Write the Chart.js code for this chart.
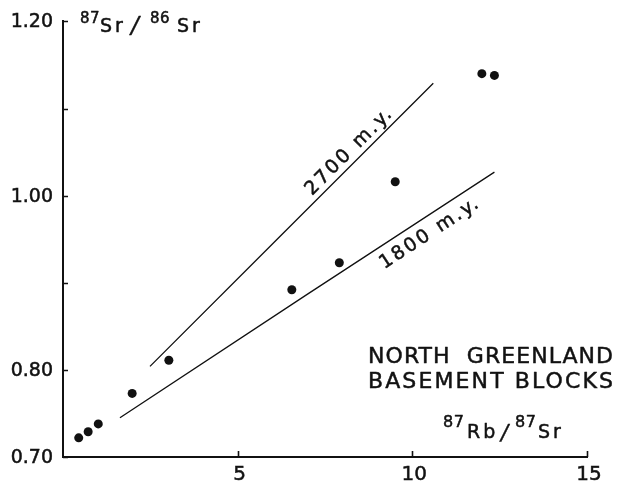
<!DOCTYPE html>
<html>
<head>
<meta charset="utf-8">
<script src="https://cdn.jsdelivr.net/npm/chart.js@4.4.1/dist/chart.umd.min.js"></script>
<style>
  html, body { margin: 0; padding: 0; background: #fff; }
  #wrap { width: 620px; height: 486px; position: relative; }
</style>
</head>
<body>
<div id="wrap"><canvas id="chart"></canvas></div>
<script>
// --- data ---
const samplesX = [0.45, 0.72, 1.01, 1.98, 3.03, 6.55, 7.91, 9.51, 11.99, 12.35];
const samplesY = [0.722, 0.729, 0.738, 0.773, 0.811, 0.892, 0.923, 1.016, 1.140, 1.138];
const iso2700X = [2.49, 6.03, 10.60];
const iso2700Y = [0.804, 0.946, 1.129];
const iso1800X = [1.63, 7.00, 12.35];
const iso1800Y = [0.745, 0.887, 1.027];
const yTicks = [0.70, 0.80, 0.90, 1.00, 1.10, 1.20];
const yTickLabels = ['0.70', '0.80', '', '1.00', '', '1.20'];
const xTicks = [0, 5, 10, 15];
const xTickLabels = ['', '5', '10', '15'];

const FONT = '"DejaVu Sans", Verdana, sans-serif';
const INK = '#111';
const BOLDEN = 0.5;

const toPts = (xs, ys) => xs.map((x, i) => ({ x, y: ys[i] }));

// point on a polyline at a given x (for label anchoring only)
function yAt(xs, ys, x) {
    for (let i = 1; i < xs.length; i++) {
        if (x <= xs[i]) {
            const t = (x - xs[i - 1]) / (xs[i] - xs[i - 1]);
            return ys[i - 1] + t * (ys[i] - ys[i - 1]);
        }
    }
    return ys[ys.length - 1];
}

const isoLabels = [
    { text: '2700 m.y.', xs: iso2700X, ys: iso2700Y, at: 8.4, off: -6 },
    { text: '1800 m.y.', xs: iso1800X, ys: iso1800Y, at: 10.23, off: 21 }
];

function ink(ctx, text, x, y) {
    ctx.strokeText(text, x, y);
    ctx.fillText(text, x, y);
}

// text pieces placed at given x, on one baseline y (+dy)
function drawParts(ctx, parts, y) {
    parts.forEach(p => {
        ctx.font = (p.style || '') + ' ' + p.size + 'px ' + FONT;
        ctx.letterSpacing = (p.ls || 0) + 'px';
        ink(ctx, p.t, p.x, y + (p.dy || 0));
    });
}

// spread a string so it covers the given width
function fitText(ctx, text, x, y, width) {
    ctx.letterSpacing = '0px';
    const w = ctx.measureText(text).width;
    ctx.letterSpacing = ((width - w) / (text.length - 1)) + 'px';
    ink(ctx, text, x, y);
}

const overlay = {
    id: 'overlay',
    afterDraw(chart) {
        const { ctx, scales: { x, y } } = chart;
        ctx.save();
        ctx.strokeStyle = INK;
        ctx.fillStyle = INK;
        ctx.lineWidth = 1.6;

        // inward tick marks
        ctx.beginPath();
        yTicks.forEach(v => {
            const py = Math.round(y.getPixelForValue(v)) + 0.5;
            ctx.moveTo(x.left, py);
            ctx.lineTo(x.left + 5, py);
        });
        xTicks.slice(1).forEach(v => {
            const px = Math.round(x.getPixelForValue(v)) + 0.5;
            ctx.moveTo(px, y.bottom);
            ctx.lineTo(px, y.bottom - 6);
        });
        ctx.stroke();

        ctx.lineWidth = BOLDEN;
        ctx.lineJoin = 'round';
        ctx.textAlign = 'left';
        ctx.textBaseline = 'alphabetic';

        // isochron labels, rotated along their lines
        ctx.font = '19px ' + FONT;
        isoLabels.forEach(l => {
            const n = l.xs.length - 1;
            const ang = Math.atan2(
                y.getPixelForValue(l.ys[n]) - y.getPixelForValue(l.ys[0]),
                x.getPixelForValue(l.xs[n]) - x.getPixelForValue(l.xs[0]));
            const px = x.getPixelForValue(l.at);
            const py = y.getPixelForValue(yAt(l.xs, l.ys, l.at));
            const len = 114;
            ctx.save();
            ctx.translate(px, py);
            ctx.rotate(ang);
            fitText(ctx, l.text, -len / 2, l.off, len);
            ctx.restore();
        });

        // axis titles
        drawParts(ctx, [
            { t: '87', x: 80, size: 15, dy: -9, ls: 0.5 },
            { t: 'Sr', x: 100, size: 19, ls: 3 },
            { t: '/', x: 131, size: 23, dy: 1, style: 'italic' },
            { t: '86', x: 150, size: 15, dy: -9, ls: 0.5 },
            { t: 'Sr', x: 177, size: 19, ls: 3 }
        ], 32);
        drawParts(ctx, [
            { t: '87', x: 443, size: 16, dy: -11, ls: 0.5 },
            { t: 'Rb', x: 467, size: 19, ls: 3 },
            { t: '/', x: 501, size: 21, dy: 2, style: 'italic' },
            { t: '87', x: 515, size: 16, dy: -11, ls: 0.5 },
            { t: 'Sr', x: 538, size: 19, ls: 3 }
        ], 438);

        // block label
        ctx.font = '22px ' + FONT;
        fitText(ctx, 'NORTH  GREENLAND', 368, 363, 245);
        fitText(ctx, 'BASEMENT BLOCKS', 368, 388, 245);
        ctx.restore();
    }
};

new Chart(document.getElementById('chart'), {
    type: 'scatter',
    data: {
        datasets: [
            {
                label: 'samples',
                data: toPts(samplesX, samplesY),
                pointRadius: 4.5,
                pointBackgroundColor: INK,
                pointBorderWidth: 0,
                showLine: false
            },
            {
                label: '2700 m.y.',
                data: toPts(iso2700X, iso2700Y),
                showLine: true,
                borderColor: INK,
                borderWidth: 1.3,
                pointRadius: 0
            },
            {
                label: '1800 m.y.',
                data: toPts(iso1800X, iso1800Y),
                showLine: true,
                borderColor: INK,
                borderWidth: 1.3,
                pointRadius: 0
            }
        ]
    },
    options: {
        responsive: true,
        maintainAspectRatio: false,
        animation: false,
        layout: { padding: { top: 15, right: 33, bottom: 0, left: 0 } },
        plugins: { legend: { display: false }, tooltip: { enabled: false } },
        scales: {
            x: {
                type: 'linear',
                min: 0, max: 15,
                afterBuildTicks: s => { s.ticks = xTicks.map(v => ({ value: v })); },
                afterFit: s => { s.height = 29; },
                grid: { display: false, drawTicks: false },
                border: { display: true, color: INK, width: 2 },
                ticks: {
                    autoSkip: false,
                    maxRotation: 0,
                    padding: 6,
                    labelOffset: 2,
                    color: INK,
                    textStrokeColor: INK,
                    textStrokeWidth: BOLDEN,
                    font: { family: FONT, size: 20 },
                    callback: (v, i) => xTickLabels[i]
                }
            },
            y: {
                type: 'linear',
                min: 0.70, max: 1.20,
                afterBuildTicks: s => { s.ticks = yTicks.map(v => ({ value: v })); },
                afterFit: s => { s.width = 63; },
                grid: { display: false, drawTicks: false },
                border: { display: true, color: INK, width: 2 },
                ticks: {
                    autoSkip: false,
                    padding: 10,
                    labelOffset: 1,
                    color: INK,
                    textStrokeColor: INK,
                    textStrokeWidth: BOLDEN,
                    font: { family: FONT, size: 19 },
                    callback: (v, i) => yTickLabels[i]
                }
            }
        }
    },
    plugins: [overlay]
});
</script>
</body>
</html>
